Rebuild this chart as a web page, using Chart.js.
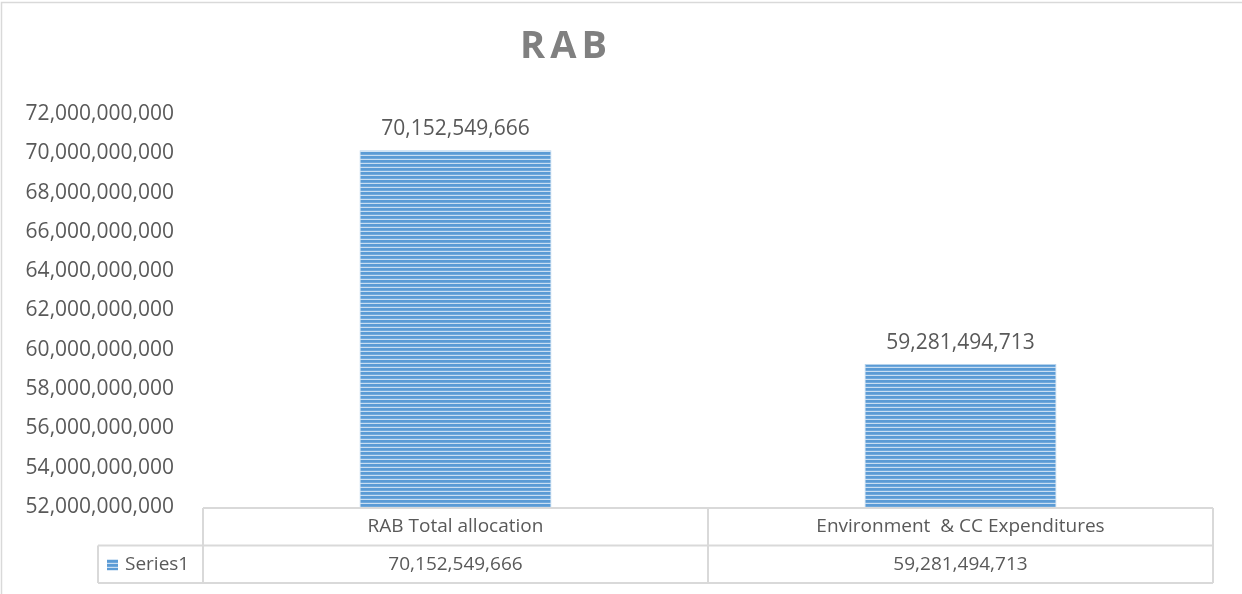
<!DOCTYPE html>
<html>
<head>
<meta charset="utf-8">
<title>RAB</title>
<script src="https://cdn.jsdelivr.net/npm/chart.js@4/dist/chart.umd.min.js"></script>
<style>
  html, body { margin: 0; padding: 0; background: #ffffff; }
  #wrap { width: 1242px; height: 594px; position: relative; }
  canvas { display: block; }
</style>
</head>
<body>
<div id="wrap"><canvas id="chart" width="1242" height="594"></canvas></div>
<script>
// Chart data
const chartTitle = 'RAB';
const categories = ['RAB Total allocation', 'Environment  & CC Expenditures'];
const seriesName = 'Series1';
const values = [70152549666, 59281494713];
// Value axis range and step
const yMin = 52000000000;
const yMax = 72000000000;
const yStep = 2000000000;

const FONT = '"Open Sans", "Noto Sans", sans-serif';
const TEXT = '#595959';
const LINE = '#d9d9d9';
const fmt = v => Number(v).toLocaleString('en-US');

// Narrow horizontal stripe fill for the bars
function stripePattern() {
  const c = document.createElement('canvas');
  c.width = 4; c.height = 4;
  const g = c.getContext('2d');
  g.fillStyle = '#5b9bd5'; g.fillRect(0, 0, 4, 2);
  g.fillStyle = '#6fa8dc'; g.fillRect(0, 2, 4, 1);
  g.fillStyle = '#c9def2'; g.fillRect(0, 3, 4, 1);
  return document.getElementById('chart').getContext('2d').createPattern(c, 'repeat');
}
const barFill = stripePattern();

// Outer frame, title, value labels and the data table underneath the plot
const decorations = {
  id: 'decorations',
  beforeDraw(chart) {
    const ctx = chart.ctx;
    ctx.save();
    ctx.strokeStyle = LINE;
    ctx.lineWidth = 1.5;
    ctx.beginPath();
    ctx.moveTo(1.5, chart.height);
    ctx.lineTo(1.5, 2.5);
    ctx.lineTo(chart.width, 2.5);
    ctx.stroke();
    ctx.restore();
  },
  afterDatasetsDraw(chart) {
    const ctx = chart.ctx;
    const area = chart.chartArea;
    const xs = chart.scales.x;
    ctx.save();

    // title
    ctx.fillStyle = '#808080';
    ctx.font = 'bold 38px ' + FONT;
    ctx.textAlign = 'center';
    ctx.textBaseline = 'alphabetic';
    if ('letterSpacing' in ctx) ctx.letterSpacing = '5px';
    ctx.fillText(chartTitle, 566, 58);
    if ('letterSpacing' in ctx) ctx.letterSpacing = '0px';

    // value labels above bars
    ctx.fillStyle = TEXT;
    ctx.font = '21px ' + FONT;
    const meta = chart.getDatasetMeta(0);
    meta.data.forEach((bar, i) => {
      ctx.fillText(fmt(values[i]), bar.x, bar.y - 15);
    });

    // data table
    const half = (xs.getPixelForValue(1) - xs.getPixelForValue(0)) / 2;
    const left = area.left, right = area.right;
    const top = area.bottom + 1;
    const rowH = 37.5;
    const keyLeft = left - 105;
    ctx.strokeStyle = LINE;
    ctx.lineWidth = 2;
    ctx.beginPath();
    ctx.moveTo(left, top); ctx.lineTo(right, top);
    ctx.moveTo(keyLeft, top + rowH); ctx.lineTo(right, top + rowH);
    ctx.moveTo(keyLeft, top + 2 * rowH); ctx.lineTo(right, top + 2 * rowH);
    ctx.moveTo(keyLeft, top + rowH); ctx.lineTo(keyLeft, top + 2 * rowH);
    ctx.moveTo(left, top); ctx.lineTo(left, top + 2 * rowH);
    categories.forEach((c, i) => {
      const xr = xs.getPixelForValue(i) + half;
      ctx.moveTo(xr, top); ctx.lineTo(xr, top + 2 * rowH);
    });
    ctx.stroke();

    ctx.fillStyle = TEXT;
    ctx.font = '19px ' + FONT;
    ctx.textBaseline = 'middle';
    ctx.textAlign = 'center';
    categories.forEach((c, i) => {
      const cx = xs.getPixelForValue(i);
      ctx.fillText(c, cx, top + rowH / 2);
      ctx.fillText(fmt(values[i]), cx, top + rowH * 1.5);
    });
    // legend key + series name
    ctx.fillStyle = barFill;
    ctx.fillRect(keyLeft + 9, top + rowH * 1.5 - 5, 11, 11);
    ctx.fillStyle = TEXT;
    ctx.textAlign = 'left';
    ctx.fillText(seriesName, keyLeft + 27, top + rowH * 1.5);
    ctx.restore();
  }
};

new Chart(document.getElementById('chart'), {
  type: 'bar',
  data: {
    labels: categories,
    datasets: [{
      label: seriesName,
      data: values,
      backgroundColor: barFill,
      borderColor: 'rgba(91,155,213,0.45)',
      borderWidth: 1,
      barPercentage: 0.38,
      categoryPercentage: 1
    }]
  },
  options: {
    responsive: false,
    animation: false,
    events: [],
    layout: { padding: { left: 0, top: 114, right: 29, bottom: 87 } },
    plugins: {
      legend: { display: false },
      title: { display: false },
      tooltip: { enabled: false }
    },
    scales: {
      x: { display: false },
      y: {
        min: yMin,
        max: yMax,
        afterFit(scale) { scale.width = 203; },
        border: { display: false },
        grid: { display: false, drawTicks: false },
        ticks: {
          stepSize: yStep,
          padding: 29,
          color: TEXT,
          font: { family: FONT, size: 21 },
          callback: v => fmt(v)
        }
      }
    }
  },
  plugins: [decorations]
});
</script>
</body>
</html>
